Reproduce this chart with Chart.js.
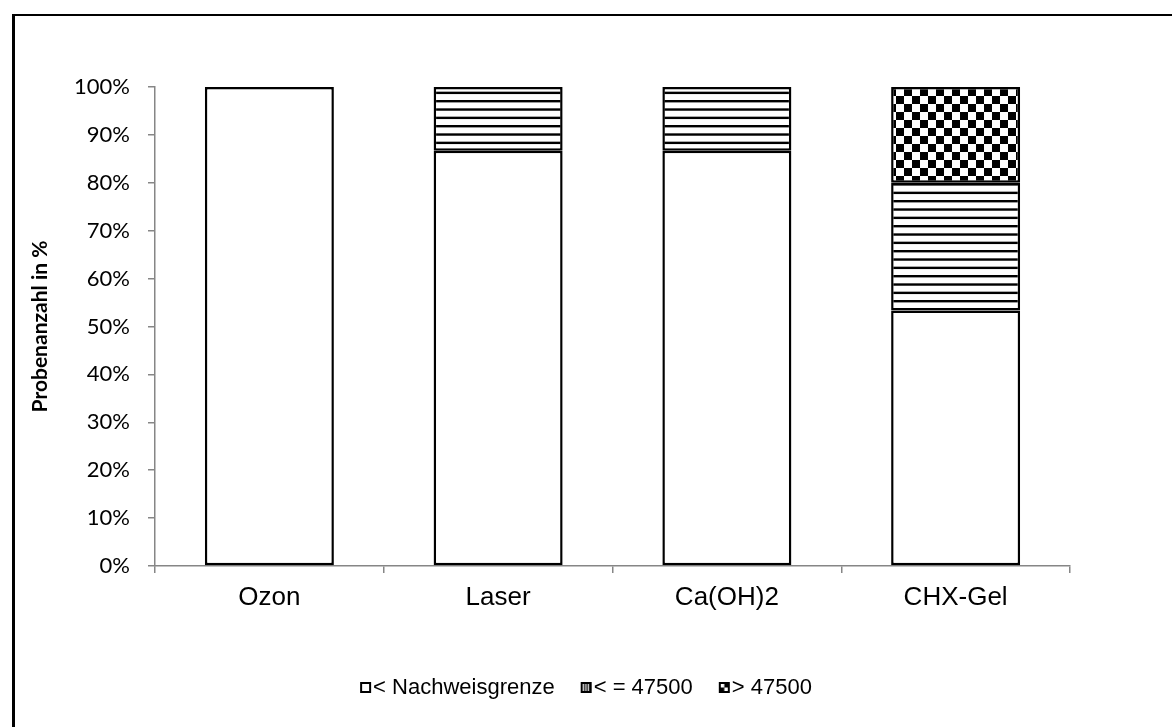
<!DOCTYPE html>
<html>
<head>
<meta charset="utf-8">
<title>Probenanzahl</title>
<script src="https://cdn.jsdelivr.net/npm/chart.js@4.4.1/dist/chart.umd.min.js"></script>
<style>
  html, body { margin: 0; padding: 0; background: #fff; overflow: hidden; }
  #frame {
    position: absolute; left: 12px; top: 14px; width: 1300px; height: 900px;
    border-left: 3px solid #000; border-top: 2px solid #000;
  }
  #wrap { position: absolute; left: 0; top: 0; width: 1172px; height: 727px; }
</style>
</head>
<body>
<div id="frame"></div>
<div id="wrap"><canvas id="probenChart" width="1172" height="727"></canvas></div>
<script>
// Kategorien und Anteile (in %) je Keimzahl-Klasse
const categories = ['Ozon', 'Laser', 'Ca(OH)2', 'CHX-Gel'];
const seriesLabels = ['< Nachweisgrenze', '< = 47500', '> 47500'];
const belowLimit = [100, 86.67, 86.67, 53.33];
const upTo47500 = [0, 13.33, 13.33, 26.67];
const above47500 = [0, 0, 0, 20];
const yTicks = [0, 10, 20, 30, 40, 50, 60, 70, 80, 90, 100];

const canvas = document.getElementById('probenChart');
const ctx = canvas.getContext('2d');

// schmale horizontale Linien
function makeLinesPattern() {
  const c = document.createElement('canvas');
  c.width = 8; c.height = 25;
  const g = c.getContext('2d');
  g.fillStyle = '#fff';
  g.fillRect(0, 0, 8, 25);
  g.fillStyle = '#000';
  for (let i = 0; i < 3; i++) g.fillRect(0, i * 25 / 3, 8, 2.4);
  return ctx.createPattern(c, 'repeat');
}

// Schachbrett, 8px Felder
function makeCheckerPattern() {
  const c = document.createElement('canvas');
  c.width = 16; c.height = 16;
  const g = c.getContext('2d');
  g.fillStyle = '#fff';
  g.fillRect(0, 0, 16, 16);
  g.fillStyle = '#000';
  g.fillRect(0, 0, 8, 8);
  g.fillRect(8, 8, 8, 8);
  return ctx.createPattern(c, 'repeat');
}

// kleine Legendensymbole, Quadrat rechts im Bild damit es dicht am Text sitzt
function makeLegendIcon(kind) {
  const c = document.createElement('canvas');
  c.width = 32; c.height = 12;
  const g = c.getContext('2d');
  const x = 20, y = 0, w = 11, h = 11;
  g.fillStyle = '#000';
  g.fillRect(x, y, w, h);
  g.fillStyle = '#fff';
  if (kind === 0) {
    g.fillRect(x + 2, y + 2, w - 4, h - 4);
  } else if (kind === 1) {
    for (let i = 0; i < 3; i++) g.fillRect(x + 2 + i * 2.5, y + 2, 1.2, h - 4);
  } else {
    g.fillRect(x + 2, y + 2, 3.5, 3.5);
    g.fillRect(x + 5.5, y + 5.5, 3.5, 3.5);
  }
  return c;
}

const legendIcons = [makeLegendIcon(0), makeLegendIcon(1), makeLegendIcon(2)];
const axisGrey = '#868686';

const probenChart = new Chart(ctx, {
  type: 'bar',
  data: {
    labels: categories,
    datasets: [
      { label: seriesLabels[0], data: belowLimit, backgroundColor: '#fff' },
      { label: seriesLabels[1], data: upTo47500, backgroundColor: makeLinesPattern() },
      { label: seriesLabels[2], data: above47500, backgroundColor: makeCheckerPattern() }
    ]
  },
  options: {
    responsive: false,
    animation: false,
    layout: { padding: { left: 0, right: 10, top: 87, bottom: 18 } },
    datasets: {
      bar: {
        borderColor: '#000',
        borderWidth: 2.5,
        borderSkipped: false,
        categoryPercentage: 1,
        barPercentage: 0.564
      }
    },
    scales: {
      x: {
        stacked: true,
        grid: { offset: true, drawOnChartArea: false, color: axisGrey, tickLength: 7, lineWidth: 1.5 },
        border: { color: axisGrey, width: 1.5 },
        ticks: {
          color: '#000',
          padding: 9,
          font: { family: '"Liberation Sans", Arial, sans-serif', size: 26 }
        },
        afterFit: scale => { scale.height = 95; }
      },
      y: {
        stacked: true,
        min: 0,
        max: 100,
        grid: { drawOnChartArea: false, color: axisGrey, tickLength: 7, lineWidth: 1.5 },
        border: { color: axisGrey, width: 1.5 },
        afterBuildTicks: axis => { axis.ticks = yTicks.map(v => ({ value: v })); },
        ticks: {
          color: '#000',
          padding: 18,
          font: { family: 'Lato, sans-serif', size: 22 },
          callback: v => v + '%'
        },
        title: {
          display: true,
          text: 'Probenanzahl in %',
          color: '#000',
          padding: { top: 28, bottom: 0 },
          font: { family: 'Lato, sans-serif', size: 21, weight: 'bold' }
        },
        afterFit: scale => { scale.width = 155; }
      },
      // leerer Rand rechts neben der Zeichenfläche
      rightGap: {
        type: 'linear',
        position: 'right',
        display: true,
        grid: { display: false },
        border: { display: false },
        ticks: { display: false },
        afterFit: scale => { scale.width = 92; }
      }
    },
    plugins: {
      legend: {
        position: 'bottom',
        labels: {
          usePointStyle: true,
          pointStyleWidth: 12,
          boxHeight: 12,
          padding: 16,
          color: '#000',
          font: { family: '"Liberation Sans", Arial, sans-serif', size: 22 },
          generateLabels: chart => chart.data.datasets.map((ds, i) => ({
            text: ds.label,
            pointStyle: legendIcons[i],
            datasetIndex: i,
            hidden: false,
            lineWidth: 0,
            fillStyle: '#fff',
            strokeStyle: '#000',
            fontColor: '#000'
          }))
        }
      },
      tooltip: { enabled: false }
    }
  }
});
</script>
</body>
</html>
